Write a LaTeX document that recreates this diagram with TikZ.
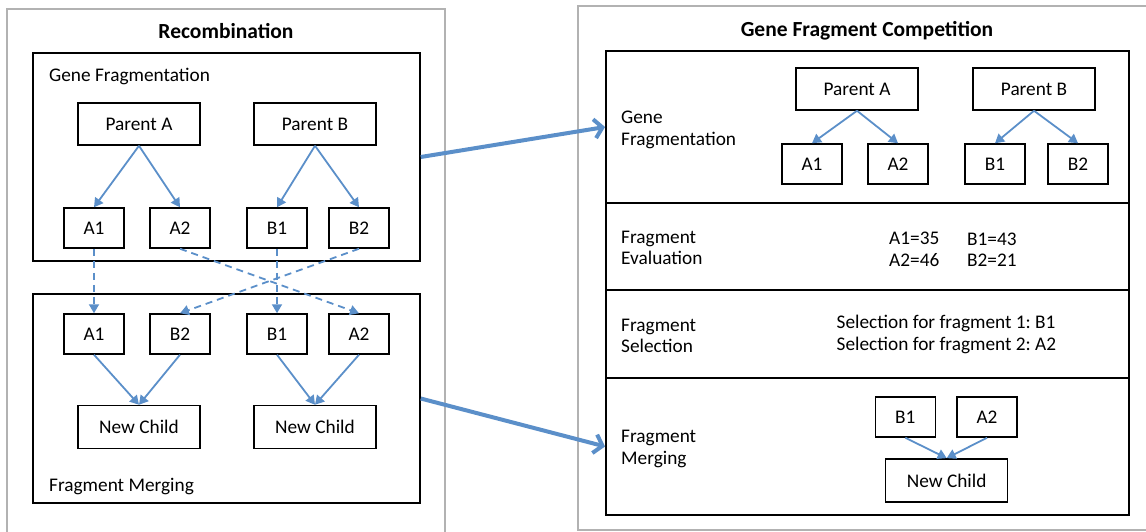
\documentclass[tikz,border=0pt]{standalone}
\usepackage{fontspec}
\setmainfont{Carlito}
\usetikzlibrary{arrows.meta}

\definecolor{linkblue}{RGB}{91,143,201}
\definecolor{framegray}{RGB}{178,178,178}

\begin{document}
\frenchspacing
\begin{tikzpicture}
[x=1pt,y=-1pt,%
  font=\fontsize{19.3}{21.5}\selectfont,%
  box/.style={draw,line width=1.5pt,inner sep=0pt,minimum height=40pt},%
  stage/.style 2 args={draw,line width=1.5pt,minimum width=#1,minimum height=#2},%
  head/.style={anchor=base,font=\fontsize{21.5}{24}\selectfont\bfseries},%
  lbl/.style={anchor=west,align=left,inner sep=0pt},%
  link/.style={-{Triangle[length=9pt,width=10pt]},linkblue,line width=1.8pt},%
  swap/.style={link,dash pattern=on 7pt off 5pt},%
  bigarrow/.style={-{Straight Barb[length=8pt,width=19pt]},linkblue,line width=4pt}]
\clip (0,0) rectangle (1146,531);
%% outer frames
\draw[framegray,line width=1.3pt] (7,540) -- (7,9) -- (445,9) -- (445,540);
\draw[framegray,line width=1.3pt] (1150,6) -- (578,6) -- (578,530) -- (1150,530);
\node[head] (rec) at (226,38) {Recombination};
\node[head] (gfc) at (867,36) {Gene Fragment Competition};
%% recombination: fragmentation
\node[stage={387}{208}] (lfrag) at (226.5,157) {};
\node[lbl,anchor=base west] at (49,81) {Gene Fragmentation};
\node[box,minimum width=122,minimum height=42] (pA) at (139,124) {Parent A};
\node[box,minimum width=122,minimum height=42] (pB) at (315,124) {Parent B};
\node[box,minimum width=60] (fA1) at (94,228) {A1};
\node[box,minimum width=60] (fA2) at (180,228) {A2};
\node[box,minimum width=60] (fB1) at (277,228) {B1};
\node[box,minimum width=60] (fB2) at (359,228) {B2};
%% recombination: merging
\node[stage={387}{209}] (lmerge) at (226.5,398.5) {};
\node[lbl,anchor=base west] at (49,491) {Fragment Merging};
\node[box,minimum width=60] (mA1) at (94,334) {A1};
\node[box,minimum width=60] (mB2) at (180,334) {B2};
\node[box,minimum width=60] (mB1) at (277,334) {B1};
\node[box,minimum width=60] (mA2) at (359,334) {A2};
\node[box,minimum width=122,minimum height=43] (cAB) at (139,427) {New Child};
\node[box,minimum width=122,minimum height=43] (cBA) at (315,427) {New Child};
%% competition
\node[stage={523}{152}] (rfrag) at (867.3,127) {};
\node[stage={523}{87}] (reval) at (867.3,246.5) {};
\node[stage={523}{88}] (rsel) at (867.3,334) {};
\node[stage={523}{137}] (rmerge) at (867.3,446.5) {};
\node[lbl] at (621,130) {Gene\\Fragmentation};
\node[lbl] at (621,248) {Fragment\\Evaluation};
\node[lbl] at (621,336) {Fragment\\Selection};
\node[lbl] at (621,449) {Fragment\\Merging};
\node[box,minimum width=122,minimum height=42] (rpA) at (857,89) {Parent A};
\node[box,minimum width=122,minimum height=42] (rpB) at (1034,89) {Parent B};
\node[box,minimum width=60] (rA1) at (812,164) {A1};
\node[box,minimum width=60] (rA2) at (898,164) {A2};
\node[box,minimum width=60] (rB1) at (995,164) {B1};
\node[box,minimum width=60] (rB2) at (1078,164) {B2};
\node[lbl] (scoresA) at (889,249.5) {A1=35\\A2=46};
\node[lbl] (scoresB) at (967,249.5) {B1=43\\B2=21};
\node[lbl] (picks) at (836.5,334.5) {Selection for fragment 1: B1\\Selection for fragment 2: A2};
\node[box,minimum width=60] (sB1) at (905.3,417) {B1};
\node[box,minimum width=60] (sA2) at (987,417) {A2};
\node[box,minimum width=122,minimum height=43] (rchild) at (946.7,480.4) {New Child};
%% connectors
\path
\foreach \startNode/\endNode in {pA/fA1, pA/fA2, pB/fB1, pB/fB2,
  mA1/cAB, mB2/cAB, mB1/cBA, mA2/cBA,
  rpA/rA1, rpA/rA2, rpB/rB1, rpB/rB2, sB1/rchild, sA2/rchild}
{
  (\startNode.south) edge[link] (\endNode.north)
};
\path
\foreach \startNode/\endNode in {fA1/mA1, fA2/mA2, fB1/mB1, fB2/mB2}
{
  (\startNode.south) edge[swap] (\endNode.north)
};
\draw[bigarrow] (lfrag.east) -- (rfrag.west);
\draw[bigarrow] (lmerge.east) -- (rmerge.west);
\end{tikzpicture}
\end{document}
